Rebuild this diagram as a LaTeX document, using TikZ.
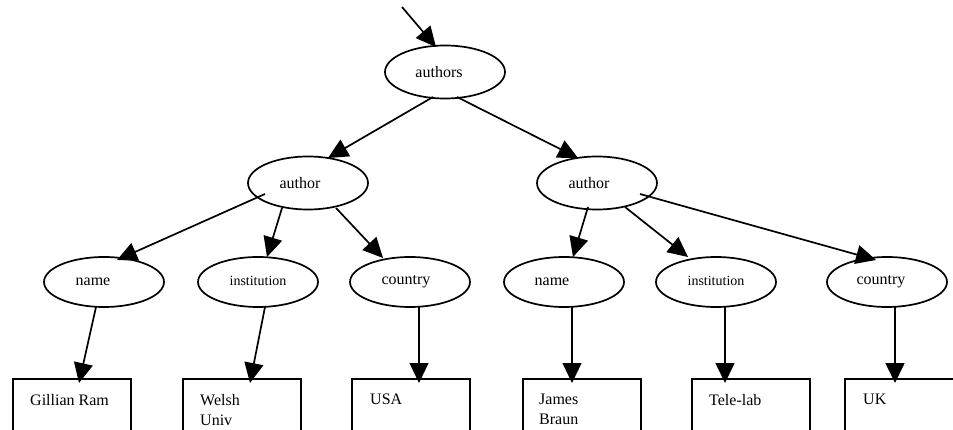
\documentclass[tikz,border=0pt]{standalone}
\usepackage{fontspec}
\setmainfont{Liberation Serif}
\usetikzlibrary{arrows.meta,shapes.geometric}

\tikzset{
  elem/.style={ellipse, draw, line width=1.7pt, inner sep=0pt,
               minimum width=120pt, minimum height=53pt,
               font=\fontsize{16}{19}\selectfont},
  leaf/.style={elem, minimum height=50pt},
  smalltext/.style={font=\fontsize{14}{17}\selectfont},
  valbox/.style={rectangle, draw, line width=1.7pt, anchor=north west,
                 minimum width=118pt, minimum height=80pt, inner sep=0pt},
  valtext/.style={anchor=north west, inner sep=0pt, align=left,
                  font=\fontsize{16}{20}\selectfont,
                  xshift=18pt, yshift=-16pt},
  link/.style={line width=1.7pt, -{Triangle[length=20pt,width=19pt]}},
  thinlink/.style={link, line width=1.1pt}
}
% trailing kern moves a label left of the ellipse centre by half its width
\newcommand{\lft}[2]{#2\kern#1pt}

\begin{document}
\begin{tikzpicture}[x=1pt,y=-1pt]
\useasboundingbox (0,0) rectangle (953,430);
\clip (0,0) rectangle (953,430);

% element nodes
\node[elem] (authors) at (445,72) {\lft{12}{authors}};
\node[elem] (aL) at (308,183) {\lft{16}{author}};
\node[elem] (aR) at (597,183) {\lft{16}{author}};

\node[leaf] (nL) at (104,282) {\lft{22}{name}};
\node[leaf, smalltext] (iL) at (258,282) {\raisebox{3pt}{institution}};
\node[leaf] (cL) at (410,282) {\lft{8}{country}};
\node[leaf] (nR) at (564,282) {\lft{24}{name}};
\node[leaf, smalltext] (iR) at (716,282) {\raisebox{3pt}{institution}};
\node[leaf] (cR) at (887,282) {\lft{12}{country}};

% value boxes
\node[valbox, label={[valtext]north west:Gillian Ram}] (b1) at (12,378) {};
\node[valbox, label={[valtext]north west:Welsh\\Univ}] (b2) at (182,378) {};
\node[valbox, label={[valtext, xshift=1pt]north west:USA}] (b3) at (351,378) {};
\node[valbox, label={[valtext, xshift=-1pt]north west:James\\Braun}] (b4) at (522,378) {};
\node[valbox, label={[valtext]north west:Tele-lab}] (b5) at (691,378) {};
\node[valbox, label={[valtext, xshift=1pt]north west:UK}] (b6) at (844,378) {};

% entry arrow
\coordinate (entry) at (402,7);
\draw[link] (entry) -- ([shift={(-9,-25)}]authors.center);

% authors -> author
\draw[link] ([shift={(-12,25)}]authors.center) -- ([shift={(20,-25)}]aL.center);
\draw[link] ([shift={(12,25)}]authors.center) -- ([shift={(-19,-25)}]aR.center);

% left author -> children
\draw[link] ([shift={(-43,11)}]aL.center) -- ([shift={(13,-22)}]nL.center);
\draw[link] ([shift={(-26,25)}]aL.center) -- ([shift={(9,-25)}]iL.center);
\draw[link] ([shift={(28,25)}]aL.center) -- ([shift={(-27,-24)}]cL.center);

% right author -> children
\draw[link] ([shift={(-9,24)}]aR.center) -- ([shift={(9,-25)}]nR.center);
\draw[link] ([shift={(28,24)}]aR.center) -- ([shift={(-28,-25)}]iR.center);
\draw[link] ([shift={(43,11)}]aR.center) -- ([shift={(-11,-22)}]cR.center);

% children -> values
\draw[link] ([shift={(-8,25)}]nL.center) -- ([shift={(67,5)}]b1.north west);
\draw[link] ([shift={(7,25)}]iL.center) -- ([shift={(68,5)}]b2.north west);
\draw[thinlink] ([shift={(9,25)}]cL.center) -- ([shift={(68,5)}]b3.north west);
\draw[thinlink] ([shift={(8,25)}]nR.center) -- ([shift={(50,5)}]b4.north west);
\draw[link] ([shift={(9,25)}]iR.center) -- ([shift={(34,5)}]b5.north west);
\draw[link] ([shift={(8,25)}]cR.center) -- ([shift={(51,5)}]b6.north west);
\end{tikzpicture}
\end{document}
